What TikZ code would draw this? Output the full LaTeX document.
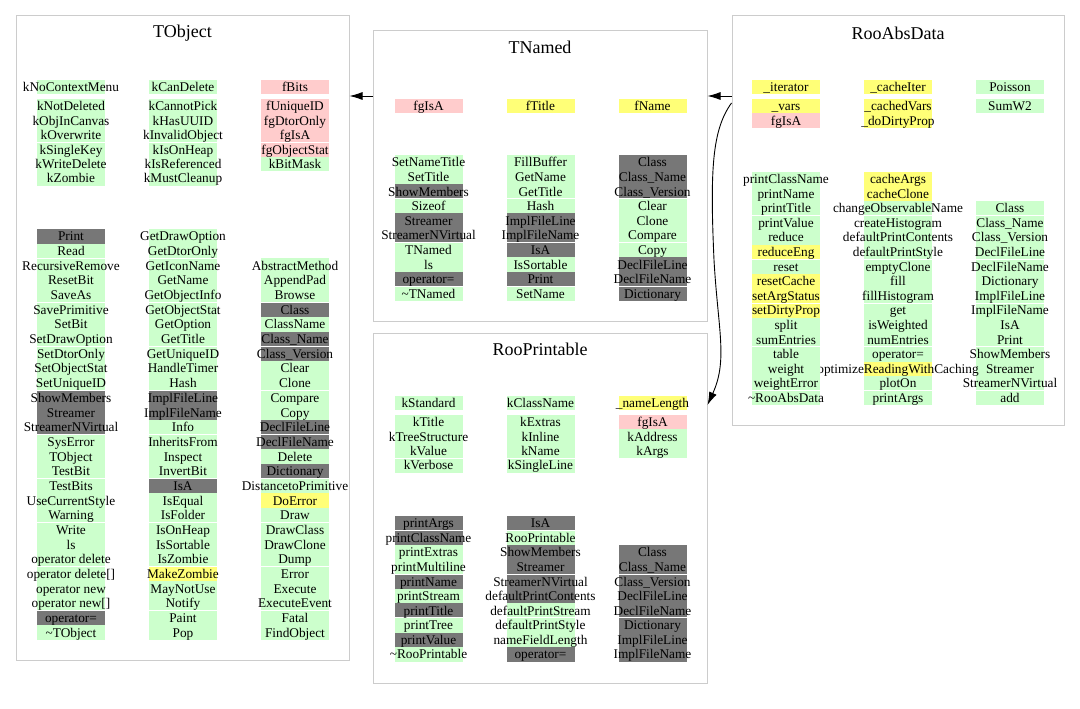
\documentclass[tikz,border=0pt]{standalone}
\usepackage{fontspec}
\setmainfont{Liberation Serif}
\usetikzlibrary{arrows.meta}
\definecolor{gn}{RGB}{204,255,204}
\definecolor{pk}{RGB}{255,204,204}
\definecolor{yl}{RGB}{255,255,119}
\definecolor{gy}{RGB}{119,119,119}
\definecolor{frm}{RGB}{204,204,204}
\tikzset{
  txt/.style={anchor=base,inner sep=0pt,font=\fontsize{13.3}{14}\selectfont},
  ttl/.style={anchor=base,inner sep=0pt,font=\fontsize{18}{20}\selectfont},
  frame/.style={draw=frm,line width=1pt,inner sep=0pt,fill=none},
  sepline/.style={draw=white,line width=1pt},
  arr/.style={-{Latex[length=13pt,width=8pt]},line width=0.9pt,black}
}
% x, ytop, pitch, list
\newcommand\fillcol[4]{\foreach \c/\t [count=\i from 0] in #4 {\fill[fill=\c] ({#1-34},{#2+\i*#3}) rectangle ({#1+34},{#2+(\i+1)*#3});}}
% x, ytop, pitch, list of row boundaries
\newcommand\sepcol[4]{\foreach \k in {#4} {\draw[sepline] ({#1-34},{#2+\k*#3}) -- ({#1+34},{#2+\k*#3});}}
% x, ytop, pitch, prefix, list
\newcommand\textcol[5]{\foreach \c/\t [count=\i from 0] in #5 {\node[txt] (#4-\i) at (#1,{#2+(\i+0.5)*#3+4.5}) {\t};}}

% ---- TObject
\def\TOaA{gn/kNoContextMenu}
\def\TOaB{gn/kCanDelete}
\def\TOaC{pk/fBits}
\def\TObA{gn/kNotDeleted,gn/kObjInCanvas,gn/kOverwrite,gn/kSingleKey,gn/kWriteDelete,gn/kZombie}
\def\TObB{gn/kCannotPick,gn/kHasUUID,gn/kInvalidObject,gn/kIsOnHeap,gn/kIsReferenced,gn/kMustCleanup}
\def\TObC{pk/fUniqueID,pk/fgDtorOnly,pk/fgIsA,pk/fgObjectStat,gn/kBitMask}
\def\TOmA{gy/Print,gn/Read,gn/RecursiveRemove,gn/ResetBit,gn/SaveAs,gn/SavePrimitive,gn/SetBit,gn/SetDrawOption,gn/SetDtorOnly,gn/SetObjectStat,gn/SetUniqueID,gy/ShowMembers,gy/Streamer,gy/StreamerNVirtual,gn/SysError,gn/TObject,gn/TestBit,gn/TestBits,gn/UseCurrentStyle,gn/Warning,gn/Write,gn/ls,gn/operator delete,gn/{operator delete[]},gn/operator new,gn/{operator new[]},gy/operator=,gn/\textasciitilde TObject}
\def\TOmB{gn/GetDrawOption,gn/GetDtorOnly,gn/GetIconName,gn/GetName,gn/GetObjectInfo,gn/GetObjectStat,gn/GetOption,gn/GetTitle,gn/GetUniqueID,gn/HandleTimer,gn/Hash,gy/ImplFileLine,gy/ImplFileName,gn/Info,gn/InheritsFrom,gn/Inspect,gn/InvertBit,gy/IsA,gn/IsEqual,gn/IsFolder,gn/IsOnHeap,gn/IsSortable,gn/IsZombie,yl/MakeZombie,gn/MayNotUse,gn/Notify,gn/Paint,gn/Pop}
\def\TOmC{gn/AbstractMethod,gn/AppendPad,gn/Browse,gy/Class,gn/ClassName,gy/Class\_Name,gy/Class\_Version,gn/Clear,gn/Clone,gn/Compare,gn/Copy,gy/DeclFileLine,gy/DeclFileName,gn/Delete,gy/Dictionary,gn/DistancetoPrimitive,yl/DoError,gn/Draw,gn/DrawClass,gn/DrawClone,gn/Dump,gn/Error,gn/Execute,gn/ExecuteEvent,gn/Fatal,gn/FindObject}
% ---- TNamed
\def\TNaA{pk/fgIsA}
\def\TNaB{yl/fTitle}
\def\TNaC{yl/fName}
\def\TNmA{gn/SetNameTitle,gn/SetTitle,gy/ShowMembers,gn/Sizeof,gy/Streamer,gy/StreamerNVirtual,gn/TNamed,gn/ls,gy/operator=,gn/\textasciitilde TNamed}
\def\TNmB{gn/FillBuffer,gn/GetName,gn/GetTitle,gn/Hash,gy/ImplFileLine,gy/ImplFileName,gy/IsA,gn/IsSortable,gy/Print,gn/SetName}
\def\TNmC{gy/Class,gy/Class\_Name,gy/Class\_Version,gn/Clear,gn/Clone,gn/Compare,gn/Copy,gy/DeclFileLine,gy/DeclFileName,gy/Dictionary}
% ---- RooPrintable
\def\RPaA{gn/kStandard}
\def\RPaB{gn/kClassName}
\def\RPaC{yl/\_nameLength}
\def\RPbA{gn/kTitle,gn/kTreeStructure,gn/kValue,gn/kVerbose}
\def\RPbB{gn/kExtras,gn/kInline,gn/kName,gn/kSingleLine}
\def\RPbC{pk/fgIsA,gn/kAddress,gn/kArgs}
\def\RPmA{gy/printArgs,gy/printClassName,gn/printExtras,gn/printMultiline,gy/printName,gn/printStream,gy/printTitle,gn/printTree,gy/printValue,gn/\textasciitilde RooPrintable}
\def\RPmB{gy/IsA,gn/RooPrintable,gy/ShowMembers,gy/Streamer,gy/StreamerNVirtual,gy/defaultPrintContents,gn/defaultPrintStream,gn/defaultPrintStyle,gn/nameFieldLength,gy/operator=}
\def\RPmC{gy/Class,gy/Class\_Name,gy/Class\_Version,gy/DeclFileLine,gy/DeclFileName,gy/Dictionary,gy/ImplFileLine,gy/ImplFileName}
% ---- RooAbsData
\def\RAaA{yl/\_iterator}
\def\RAaB{yl/\_cacheIter}
\def\RAaC{gn/Poisson}
\def\RAbA{yl/\_vars,pk/fgIsA}
\def\RAbB{yl/\_cachedVars,yl/\_doDirtyProp}
\def\RAbC{gn/SumW2}
\def\RAmA{gn/printClassName,gn/printName,gn/printTitle,gn/printValue,gn/reduce,yl/reduceEng,gn/reset,yl/resetCache,yl/setArgStatus,yl/setDirtyProp,gn/split,gn/sumEntries,gn/table,gn/weight,gn/weightError,gn/\textasciitilde RooAbsData}
\def\RAmB{yl/cacheArgs,yl/cacheClone,gn/changeObservableName,gn/createHistogram,gn/defaultPrintContents,gn/defaultPrintStyle,gn/emptyClone,gn/fill,gn/fillHistogram,gn/get,gn/isWeighted,gn/numEntries,gn/operator=,yl/optimizeReadingWithCaching,gn/plotOn,gn/printArgs}
\def\RAmC{gn/Class,gn/Class\_Name,gn/Class\_Version,gn/DeclFileLine,gn/DeclFileName,gn/Dictionary,gn/ImplFileLine,gn/ImplFileName,gn/IsA,gn/Print,gn/ShowMembers,gn/Streamer,gn/StreamerNVirtual,gn/add}

\begin{document}
\begin{tikzpicture}[x=1pt,y=-1pt]
\useasboundingbox[fill=white] (0,0) rectangle (1080,709);

% frames
\node[frame,minimum width=333pt,minimum height=644pt] (TObject) at (182.5,338) {};
\node[frame,minimum width=334pt,minimum height=290pt] (TNamed) at (540,176) {};
\node[frame,minimum width=334pt,minimum height=350pt] (RooPrintable) at (540,508) {};
\node[frame,minimum width=332pt,minimum height=409pt] (RooAbsData) at (898,220.5) {};

% titles
\node[ttl] (tTObject) at (182.5,37.5) {TObject};
\node[ttl] (tTNamed) at (540,53.3) {TNamed};
\node[ttl] (tRooPrintable) at (540,355) {RooPrintable};
\node[ttl] (tRooAbsData) at (898,39.3) {RooAbsData};

% ===== TObject
\fillcol{71}{80}{14.3}{\TOaA}\fillcol{183}{80}{14.3}{\TOaB}\fillcol{295}{80}{14.3}{\TOaC}
\fillcol{71}{99}{14.45}{\TObA}\fillcol{183}{99}{14.45}{\TObB}\fillcol{295}{99}{14.45}{\TObC}
\sepcol{71}{99}{14.45}{3}\sepcol{183}{99}{14.45}{3}\sepcol{295}{99}{14.45}{3}
\fillcol{71}{229}{14.68}{\TOmA}\fillcol{183}{229}{14.68}{\TOmB}\fillcol{295}{258.36}{14.68}{\TOmC}
\sepcol{71}{229}{14.68}{2,5,8,11,14,17,20,23,26}
\sepcol{183}{229}{14.68}{2,5,8,11,14,17,20,23,26}
\sepcol{295}{258.36}{14.68}{3,6,9,12,15,18,21,24}
\textcol{71}{80}{14.3}{toaA}{\TOaA}\textcol{183}{80}{14.3}{toaB}{\TOaB}\textcol{295}{80}{14.3}{toaC}{\TOaC}
\textcol{71}{99}{14.45}{tobA}{\TObA}\textcol{183}{99}{14.45}{tobB}{\TObB}\textcol{295}{99}{14.45}{tobC}{\TObC}
\textcol{71}{229}{14.68}{tomA}{\TOmA}\textcol{183}{229}{14.68}{tomB}{\TOmB}\textcol{295}{258.36}{14.68}{tomC}{\TOmC}

% ===== TNamed
\fillcol{428.5}{99}{14}{\TNaA}\fillcol{540.5}{99}{14}{\TNaB}\fillcol{652.5}{99}{14}{\TNaC}
\fillcol{428.5}{155}{14.6}{\TNmA}\fillcol{540.5}{155}{14.6}{\TNmB}\fillcol{652.5}{155}{14.6}{\TNmC}
\sepcol{428.5}{155}{14.6}{3,6,9}\sepcol{540.5}{155}{14.6}{3,6,9}\sepcol{652.5}{155}{14.6}{3,6,9}
\textcol{428.5}{99}{14}{tnaA}{\TNaA}\textcol{540.5}{99}{14}{tnaB}{\TNaB}\textcol{652.5}{99}{14}{tnaC}{\TNaC}
\textcol{428.5}{155}{14.6}{tnmA}{\TNmA}\textcol{540.5}{155}{14.6}{tnmB}{\TNmB}\textcol{652.5}{155}{14.6}{tnmC}{\TNmC}

% ===== RooPrintable
\fillcol{428.5}{396}{14.2}{\RPaA}\fillcol{540.5}{396}{14.2}{\RPaB}\fillcol{652.5}{396}{14.2}{\RPaC}
\fillcol{428.5}{415}{14.4}{\RPbA}\fillcol{540.5}{415}{14.4}{\RPbB}\fillcol{652.5}{415}{14.4}{\RPbC}
\sepcol{428.5}{415}{14.4}{3}\sepcol{540.5}{415}{14.4}{3}
\fillcol{428.5}{516}{14.57}{\RPmA}\fillcol{540.5}{516}{14.57}{\RPmB}\fillcol{652.5}{545.14}{14.57}{\RPmC}
\sepcol{428.5}{516}{14.57}{1,4,7}\sepcol{540.5}{516}{14.57}{1,4,7}\sepcol{652.5}{545.14}{14.57}{2,5}
\textcol{428.5}{396}{14.2}{rpaA}{\RPaA}\textcol{540.5}{396}{14.2}{rpaB}{\RPaB}\textcol{652.5}{396}{14.2}{rpaC}{\RPaC}
\textcol{428.5}{415}{14.4}{rpbA}{\RPbA}\textcol{540.5}{415}{14.4}{rpbB}{\RPbB}\textcol{652.5}{415}{14.4}{rpbC}{\RPbC}
\textcol{428.5}{516}{14.57}{rpmA}{\RPmA}\textcol{540.5}{516}{14.57}{rpmB}{\RPmB}\textcol{652.5}{545.14}{14.57}{rpmC}{\RPmC}

% ===== RooAbsData
\fillcol{786}{80}{14.2}{\RAaA}\fillcol{898}{80}{14.2}{\RAaB}\fillcol{1010}{80}{14.2}{\RAaC}
\fillcol{786}{99}{14.5}{\RAbA}\fillcol{898}{99}{14.5}{\RAbB}\fillcol{1010}{99}{14.5}{\RAbC}
\textcol{786}{80}{14.2}{raaA}{\RAaA}\textcol{898}{80}{14.2}{raaB}{\RAaB}\textcol{1010}{80}{14.2}{raaC}{\RAaC}
\textcol{786}{99}{14.5}{rabA}{\RAbA}\textcol{898}{99}{14.5}{rabB}{\RAbB}\textcol{1010}{99}{14.5}{rabC}{\RAbC}
\fillcol{1010}{200.9}{14.6}{\RAmC}\sepcol{1010}{200.9}{14.6}{1,4,7,10,13}
\fillcol{898}{171.7}{14.6}{\RAmB}\sepcol{898}{171.7}{14.6}{3,6,9,12,15}
\textcol{898}{171.7}{14.6}{ramB}{\RAmB}\textcol{1010}{200.9}{14.6}{ramC}{\RAmC}
\fillcol{786}{171.7}{14.6}{\RAmA}\sepcol{786}{171.7}{14.6}{3,6,9,12,15}
\textcol{786}{171.7}{14.6}{ramA}{\RAmA}

% ===== connectors
\coordinate (ya) at (0,96);
\coordinate (yb) at (0,103);
\coordinate (yc) at (0,405);
\draw[arr] (TNamed.west |- ya) -- (TObject.east |- ya);
\draw[arr] (RooAbsData.west |- ya) -- (TNamed.east |- ya);
\draw[arr] (RooAbsData.west |- yb) .. controls (712,130) and (710,170) .. (714,260) .. controls (718,330) and (728,360) .. (RooPrintable.east |- yc);
\end{tikzpicture}
\end{document}
